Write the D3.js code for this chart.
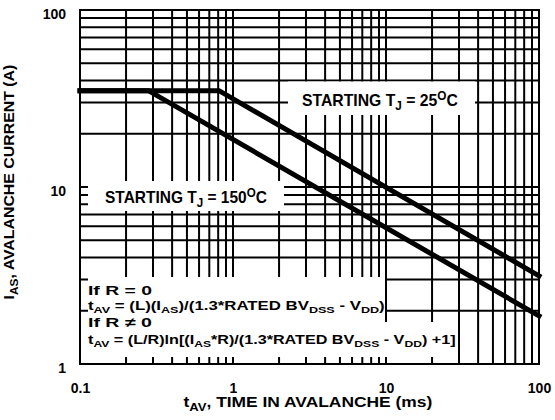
<!DOCTYPE html>
<html><head><meta charset="utf-8">
<script src="https://cdn.jsdelivr.net/npm/d3@7"></script>
<style>
html,body{margin:0;padding:0;background:#fff;}
svg text{font-family:"Liberation Sans",Arial,sans-serif;font-weight:bold;fill:#000;}
</style></head>
<body><svg id="c" width="555" height="420"></svg>
<script>
// ---- data ----
const xTickLabels = [0.1, 1, 10, 100];
const yTickLabels = [1, 10, 100];
const time25 = [0.1, 0.81, 100];
const current25 = [35, 35, 3.15];
const time150 = [0.1, 0.28, 100];
const current150 = [35, 35, 1.87];

// ---- layout ----
const L = 80, R = 539, T = 10, B = 364;
const svg = d3.select("#c");
const x = d3.scaleLog().domain([0.1, 100]).range([L, R]);
const y = d3.scaleLog().domain([1, 100]).range([B, T]);

// grid
const grid = svg.append("g").attr("stroke", "#000").attr("stroke-width", 2);
grid.selectAll("line.v").data(x.ticks()).join("line").attr("class", "v")
  .attr("x1", d => x(d)).attr("x2", d => x(d)).attr("y1", T).attr("y2", B);
grid.selectAll("line.h").data(y.ticks()).join("line").attr("class", "h")
  .attr("x1", L).attr("x2", R).attr("y1", d => y(d)).attr("y2", d => y(d));

// white label boxes breaking the grid
const boxes = [
  [288, 81.5, 475, 115],
  [88, 181, 284, 211],
  [88, 277, 385, 322],
  [88, 322, 446, 357]
];
svg.append("g").selectAll("rect").data(boxes).join("rect")
  .attr("x", d => d[0]).attr("y", d => d[1])
  .attr("width", d => d[2] - d[0]).attr("height", d => d[3] - d[1])
  .attr("fill", "#fff");

// frame
svg.append("rect").attr("x", L).attr("y", T).attr("width", R - L).attr("height", B - T)
  .attr("fill", "none").attr("stroke", "#000").attr("stroke-width", 2);

// curves
const line = d3.line().x(d => x(d[0])).y(d => y(d[1]));
[[time25, current25], [time150, current150]].forEach(([ts, cs]) => {
  svg.append("path").datum(ts.map((t, i) => [t, cs[i]]))
    .attr("d", line).attr("fill", "none").attr("stroke", "#000")
    .attr("stroke-width", 5).attr("stroke-linecap", "square").attr("stroke-linejoin", "miter");
});

// axes labels
const fmt = d => (d < 1 ? d3.format(".1f")(d) : d3.format("d")(d));
const xa = svg.append("g").attr("transform", `translate(0,${B})`)
  .call(d3.axisBottom(x).tickValues(xTickLabels).tickFormat(fmt).tickSize(0).tickPadding(19));
xa.select(".domain").remove();
xa.selectAll("text").attr("font-size", 14).attr("font-family", "Liberation Sans").attr("font-weight", "bold");
const ya = svg.append("g").attr("transform", `translate(${L},0)`)
  .call(d3.axisLeft(y).tickValues(yTickLabels).tickFormat(fmt).tickSize(0).tickPadding(14));
ya.select(".domain").remove();
ya.selectAll("text").attr("font-size", 14).attr("dy", "0.58em").attr("font-family", "Liberation Sans").attr("font-weight", "bold");

// rich text helper: segments [text, mode] mode: 0 normal, 1 sub, 2 sup
function rich(g, segs, size, subShift) {
  const t = g.append("text").attr("font-size", size);
  let shift = 0;
  segs.forEach(([s, m]) => {
    const target = m === 1 ? size * subShift : m === 2 ? -size * 0.38 : 0;
    t.append("tspan").text(s)
      .attr("font-size", m ? size * 0.75 : size)
      .attr("dy", target - shift);
    shift = target;
  });
  return t;
}
function place(segs, size, x0, yb, width, opts = {}) {
  const g = svg.append("g");
  const t = rich(g, segs, size, opts.sub || 0.28);
  const w = t.node().getComputedTextLength();
  const sx = width / w;
  if (opts.anchor === "middle") t.attr("x", -w / 2);
  const rot = opts.rotate ? " rotate(-90)" : "";
  g.attr("transform", `translate(${x0},${yb})${rot} scale(${sx},1)`);
  return { g, sx, w };
}

place([["STARTING T", 0], ["J", 1], [" = 25", 0], ["O", 2], ["C", 0]], 16, 302, 106, 156);
place([["STARTING T", 0], ["J", 1], [" = 150", 0], ["O", 2], ["C", 0]], 16, 105, 203, 162);
const fo = { sub: 0.2 };
place([["If R = 0", 0]], 13, 88, 295, 64, fo);
place([["t", 0], ["AV", 1], [" = (L)(I", 0], ["AS", 1], [")/(1.3*RATED BV", 0], ["DSS", 1], [" - V", 0], ["DD", 1], [")", 0]], 13, 88, 310, 297, fo);
place([["If R \u2260 0", 0]], 13, 88, 327, 64, fo);
place([["t", 0], ["AV", 1], [" = (L/R)ln[(I", 0], ["AS", 1], ["*R)/(1.3*RATED BV", 0], ["DSS", 1], [" - V", 0], ["DD", 1], [") +1]", 0]], 13, 88, 344, 368, fo);

place([["t", 0], ["AV", 1], [", TIME IN AVALANCHE (ms)", 0]], 14, 308, 407, 249, { anchor: "middle" });
place([["I", 0], ["AS", 1], [", AVALANCHE CURRENT (A)", 0]], 14, 14, 182, 235, { anchor: "middle", rotate: true });
</script></body></html>
